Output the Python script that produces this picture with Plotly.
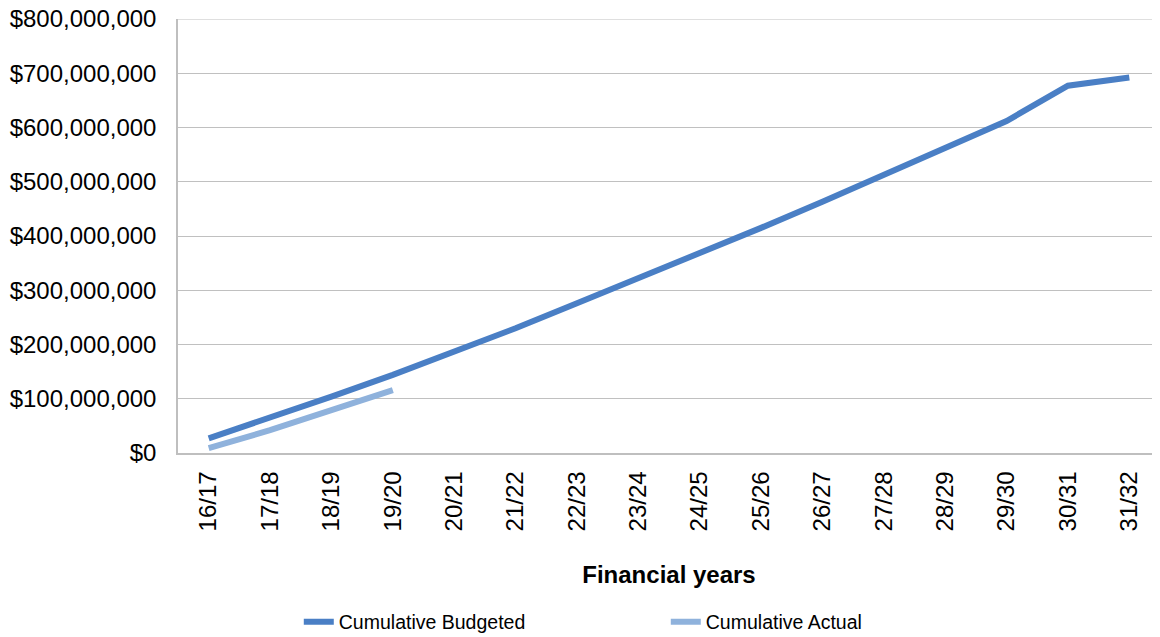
import plotly.graph_objects as go

years = ["16/17", "17/18", "18/19", "19/20", "20/21", "21/22", "22/23", "23/24",
         "24/25", "25/26", "26/27", "27/28", "28/29", "29/30", "30/31", "31/32"]
budgeted = [27e6, 65e6, 104e6, 144e6, 186e6, 230e6, 276e6, 322e6,
            368e6, 415e6, 463e6, 512e6, 562e6, 612e6, 677e6, 692e6]
actual_years = ["16/17", "17/18", "18/19", "19/20"]
actual = [9e6, 42e6, 79e6, 116e6]
y_max = 800e6

FONT = "Liberation Sans, Arial, sans-serif"
GRID = "#c0c0c0"

fig = go.Figure()
fig.add_trace(go.Scatter(x=years, y=budgeted, mode="lines", name="Cumulative Budgeted",
                         line=dict(color="#4a7fc5", width=6)))
fig.add_trace(go.Scatter(x=actual_years, y=actual, mode="lines", name="Cumulative Actual",
                         line=dict(color="#8fb2dc", width=6)))

# top gridline at the range end (plotly omits gridlines on the plot edge)
fig.add_shape(type="line", xref="paper", x0=0, x1=1, yref="y", y0=y_max, y1=y_max,
              line=dict(color=GRID, width=1.2), layer="below")

fig.update_layout(
    width=1160, height=637,
    margin=dict(l=170, r=8, t=11, b=192),
    paper_bgcolor="white", plot_bgcolor="white",
    font=dict(family=FONT, size=24, color="black"),
    showlegend=True,
    legend=dict(orientation="h", x=0.123, xanchor="left",
                yref="container", y=0.036, yanchor="middle",
                font=dict(size=19.5), entrywidth=322, entrywidthmode="pixels",
                tracegroupgap=0),
    xaxis=dict(
        type="category", categoryorder="array", categoryarray=years,
        range=[-0.5, 15.5], tickangle=-90, showgrid=False,
        showline=True, linecolor="#bfbfbf", linewidth=1.5,
        ticks="", tickfont=dict(size=24), automargin=False, ticklabelstandoff=7,
        title=dict(text="<b>Financial years</b>", font=dict(size=24), standoff=36),
    ),
    yaxis=dict(
        range=[0, y_max], dtick=100e6, tickprefix="$", tickformat=",",
        showgrid=True, gridcolor=GRID, gridwidth=1.2,
        showline=True, linecolor="#bfbfbf", linewidth=1.5,
        zeroline=False, ticks="", tickfont=dict(size=24), ticklabelstandoff=15,
        automargin=False, ticklabeloverflow="allow",
    ),
)

fig.write_html("out.html")
